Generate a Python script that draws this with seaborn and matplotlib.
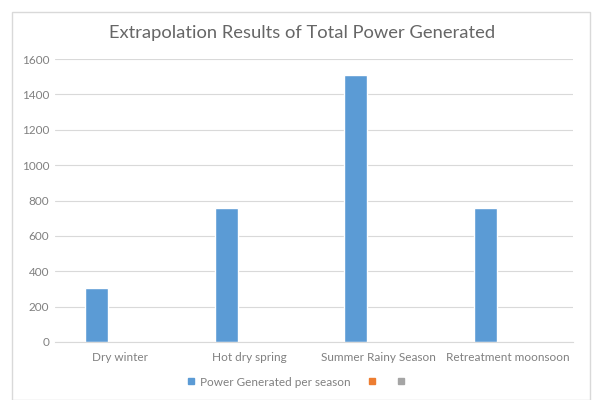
import matplotlib
matplotlib.use("Agg")
import matplotlib.pyplot as plt
from matplotlib.patches import Rectangle
import pandas as pd
import seaborn as sns

seasons = ["Dry winter", "Hot dry spring", "Summer Rainy Season", "Retreatment moonsoon"]
power_generated = [305, 760, 1510, 760]
series_names = ["Power Generated per season", "Series2", "Series3"]
y_ticks = [0, 200, 400, 600, 800, 1000, 1200, 1400, 1600]

# Long-form table: the second and third series are empty, as in the workbook
rows = []
for s, v in zip(seasons, power_generated):
    rows.append({"season": s, "series": series_names[0], "value": v})
    rows.append({"season": s, "series": series_names[1], "value": float("nan")})
    rows.append({"season": s, "series": series_names[2], "value": float("nan")})
df = pd.DataFrame(rows)

sns.set_theme(style="white")
plt.rcParams["font.family"] = ["Lato", "DejaVu Sans"]

text_grey = "#808080"
grid_grey = "#D9D9D9"
palette = ["#5B9BD5", "#ED7D31", "#A5A5A5"]

fig = plt.figure(figsize=(5.95, 4.0), dpi=100)
ax = fig.add_axes([55 / 595, 1 - 342 / 400, (573 - 55) / 595, (342 - 59) / 400])

sns.barplot(data=df, x="season", y="value", hue="series", order=seasons,
            hue_order=series_names, palette=palette, width=0.533,
            saturation=1, legend=False, ax=ax)

ax.set_ylim(0, 1600)
ax.set_xlim(-0.5, len(seasons) - 0.5)
ax.set_yticks(y_ticks)
ax.set_yticklabels([str(t) for t in y_ticks])
ax.yaxis.grid(True, color=grid_grey, linewidth=0.8)
ax.set_axisbelow(True)
for side in ["top", "right", "left"]:
    ax.spines[side].set_visible(False)
ax.spines["bottom"].set_color(grid_grey)
ax.spines["bottom"].set_linewidth(0.8)
ax.tick_params(axis="both", length=0, colors=text_grey, labelsize=8.5)
ax.tick_params(axis="y", pad=4)
ax.tick_params(axis="x", pad=7)
ax.set_xlabel("")
ax.set_ylabel("")

fig.text(302 / 595, 1 - 33 / 400, "Extrapolation Results of Total Power Generated",
         ha="center", va="center", fontsize=13.2, color="#666666")

# Legend with small square markers; the empty series carry no label
handles = [plt.Line2D([], [], marker="s", linestyle="", markersize=4.5,
                      markerfacecolor=c, markeredgecolor=c) for c in palette]
labels = [series_names[0], "", ""]
fig.legend(handles, labels, loc="center", bbox_to_anchor=(0.5, 1 - 382 / 400),
           ncol=3, frameon=False, fontsize=8.5, labelcolor=text_grey,
           handletextpad=0.2, columnspacing=1.3, handlelength=1.0)

# Chart area border
fig.patches.append(Rectangle((12 / 595, 0.0), (590 - 12) / 595, 1 - 12 / 400,
                             transform=fig.transFigure, fill=False,
                             edgecolor=grid_grey, linewidth=1.0))

fig.savefig("out.png", dpi=100)
